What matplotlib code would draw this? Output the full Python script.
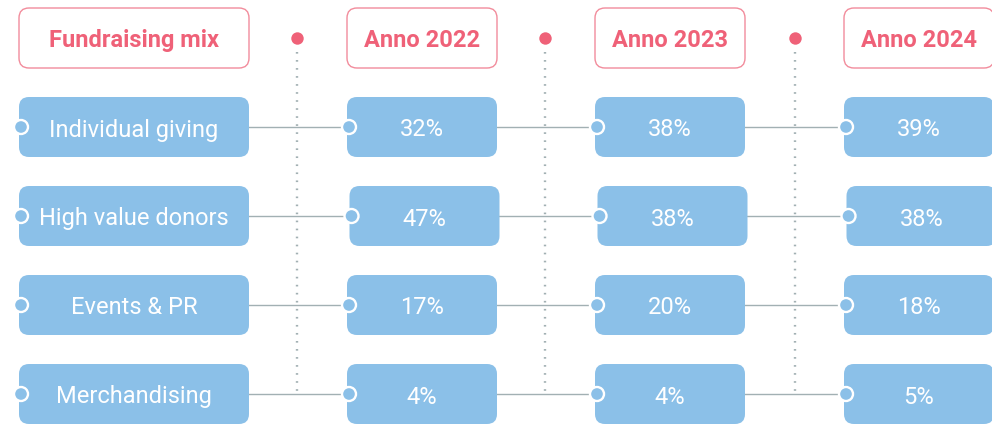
import matplotlib
matplotlib.use("Agg")
from matplotlib import pyplot as plt
from matplotlib.patches import FancyBboxPatch, Circle

plt.rcParams['font.family'] = ['Roboto', 'DejaVu Sans']

title = "Fundraising mix"
years = ["Anno 2022", "Anno 2023", "Anno 2024"]
categories = ["Individual giving", "High value donors", "Events & PR", "Merchandising"]
values_2022 = [32, 47, 17, 4]
values_2023 = [38, 38, 20, 4]
values_2024 = [39, 38, 18, 5]
columns = [values_2022, values_2023, values_2024]

BLUE = "#8bc0e8"
RED = "#ef6178"
RED_EDGE = "#f28c9c"
GRAY = "#a2b0b3"

W, H = 992, 426
fig = plt.figure(figsize=(W / 100, H / 100), dpi=100)
ax = fig.add_axes([0, 0, 1, 1])
ax.set_xlim(0, W)
ax.set_ylim(H, 0)
ax.axis("off")

# layout (pixels)
col_x = [19, 347, 595, 844]
col_w = [230, 150, 150, 150]
row_y = [97, 186, 275, 364]
row_shift = [0, 2.5, 0, 0]   # second row of values sits a touch to the right
box_h = 60
sep_x = [297, 545, 795]


def rbox(x, y, w, h, face, edge, lw=0, z=2):
    p = FancyBboxPatch((x, y), w, h, boxstyle="round,pad=0,rounding_size=10",
                       facecolor=face, edgecolor=edge, linewidth=lw, zorder=z)
    ax.add_patch(p)


# header row
headers = [title] + years
for i, txt in enumerate(headers):
    rbox(col_x[i], 8, col_w[i], 60, "white", RED_EDGE, lw=1.0)
    ax.text(col_x[i] + col_w[i] / 2, 40.5, txt, ha="center", va="center",
            color=RED, fontsize=17, fontweight="bold", zorder=3)

# separators with red dot on top
for x in sep_x:
    ax.plot([x, x], [52, 395], color=GRAY, lw=1.7,
            linestyle=(0, (0.7, 2.7)), zorder=1)
    ax.scatter([x], [38], s=80, color=RED, zorder=3, linewidths=0)

# rows
for r, cat in enumerate(categories):
    cy = row_y[r] + box_h / 2
    ax.plot([col_x[0] + col_w[0], col_x[-1] + 5], [cy, cy], color=GRAY, lw=1.0, zorder=1)
    labels = [cat] + [f"{col[r]}%" for col in columns]
    for i, txt in enumerate(labels):
        x0 = col_x[i] + (row_shift[r] if i > 0 else 0)
        rbox(x0, row_y[r], col_w[i], box_h, BLUE, "none")
        ax.text(x0 + col_w[i] / 2, cy + 3, txt, ha="center", va="center",
                color="white", fontsize=17, zorder=4)
        ax.add_patch(Circle((x0 + 2, cy), 7, facecolor=BLUE, edgecolor="white",
                            linewidth=1.7, zorder=5))

fig.savefig("out.png", dpi=100)
